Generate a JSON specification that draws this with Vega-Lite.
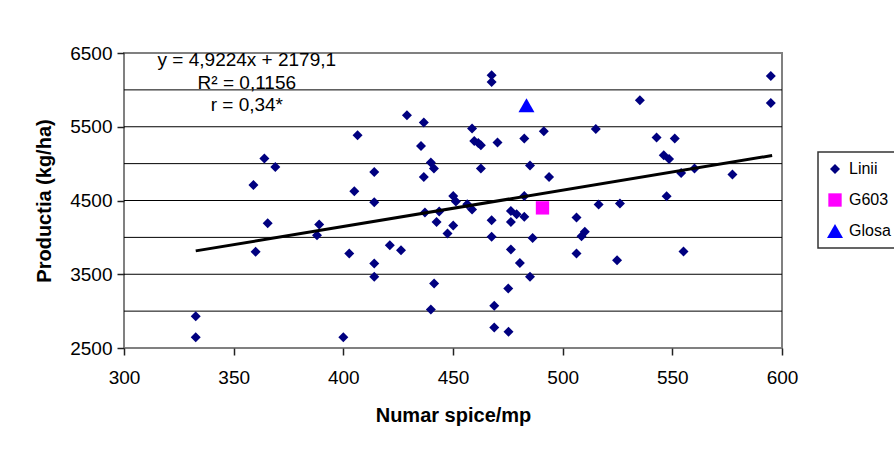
{
  "$schema": "https://vega.github.io/schema/vega-lite/v6.json",
  "width": 658,
  "height": 295,
  "autosize": {"type": "none"},
  "padding": {"left": 124, "top": 53, "right": 112, "bottom": 109},
  "background": "white",
  "config": {
    "font": "Liberation Sans",
    "view": {"stroke": "#808080", "strokeWidth": 2},
    "axis": {"labelFont": "Liberation Sans", "titleFont": "Liberation Sans", "labelColor": "black", "titleColor": "black", "domain": false, "grid": false, "labelOverlap": false, "labelFlush": false, "format": "d"},
    "axisX": {"ticks": true, "tickColor": "#222222", "tickWidth": 1.5, "tickSize": 7, "tickOpacity": 1},
    "axisY": {"ticks": true, "tickColor": "#222222", "tickWidth": 1.5, "tickSize": 7, "tickOpacity": 1},
    "legend": {"strokeColor": "#333333", "strokeWidth": 1.5}
  },
  "datasets": {
    "pts": [
      {"x": 364, "y": 5070, "s": "Linii"},
      {"x": 369, "y": 4955, "s": "Linii"},
      {"x": 359, "y": 4710, "s": "Linii"},
      {"x": 365.5, "y": 4190, "s": "Linii"},
      {"x": 360, "y": 3805, "s": "Linii"},
      {"x": 389, "y": 4175, "s": "Linii"},
      {"x": 388, "y": 4030, "s": "Linii"},
      {"x": 332.7, "y": 2930, "s": "Linii"},
      {"x": 332.7, "y": 2645, "s": "Linii"},
      {"x": 400, "y": 2645, "s": "Linii"},
      {"x": 467.6, "y": 6198, "s": "Linii"},
      {"x": 467.6, "y": 6107, "s": "Linii"},
      {"x": 429, "y": 5656, "s": "Linii"},
      {"x": 436.7, "y": 5557, "s": "Linii"},
      {"x": 406.5, "y": 5385, "s": "Linii"},
      {"x": 458.7, "y": 5476, "s": "Linii"},
      {"x": 435.4, "y": 5240, "s": "Linii"},
      {"x": 459.7, "y": 5308, "s": "Linii"},
      {"x": 461.5, "y": 5280, "s": "Linii"},
      {"x": 462.7, "y": 5249, "s": "Linii"},
      {"x": 470.3, "y": 5286, "s": "Linii"},
      {"x": 482.5, "y": 5340, "s": "Linii"},
      {"x": 491.4, "y": 5439, "s": "Linii"},
      {"x": 414.1, "y": 4888, "s": "Linii"},
      {"x": 439.9, "y": 5015, "s": "Linii"},
      {"x": 441.3, "y": 4934, "s": "Linii"},
      {"x": 436.7, "y": 4820, "s": "Linii"},
      {"x": 462.7, "y": 4934, "s": "Linii"},
      {"x": 485.1, "y": 4974, "s": "Linii"},
      {"x": 493.8, "y": 4820, "s": "Linii"},
      {"x": 405, "y": 4626, "s": "Linii"},
      {"x": 414.1, "y": 4477, "s": "Linii"},
      {"x": 450.1, "y": 4562, "s": "Linii"},
      {"x": 451.3, "y": 4486, "s": "Linii"},
      {"x": 456.5, "y": 4450, "s": "Linii"},
      {"x": 458.7, "y": 4378, "s": "Linii"},
      {"x": 482.5, "y": 4562, "s": "Linii"},
      {"x": 437.2, "y": 4337, "s": "Linii"},
      {"x": 443.7, "y": 4351, "s": "Linii"},
      {"x": 442.5, "y": 4210, "s": "Linii"},
      {"x": 450.1, "y": 4161, "s": "Linii"},
      {"x": 447.5, "y": 4053, "s": "Linii"},
      {"x": 467.6, "y": 4233, "s": "Linii"},
      {"x": 467.6, "y": 4007, "s": "Linii"},
      {"x": 476.4, "y": 4359, "s": "Linii"},
      {"x": 479, "y": 4314, "s": "Linii"},
      {"x": 482.5, "y": 4278, "s": "Linii"},
      {"x": 476.4, "y": 4210, "s": "Linii"},
      {"x": 486.3, "y": 3993, "s": "Linii"},
      {"x": 402.7, "y": 3782, "s": "Linii"},
      {"x": 421.2, "y": 3894, "s": "Linii"},
      {"x": 426.3, "y": 3827, "s": "Linii"},
      {"x": 414.1, "y": 3646, "s": "Linii"},
      {"x": 414.1, "y": 3465, "s": "Linii"},
      {"x": 476.4, "y": 3836, "s": "Linii"},
      {"x": 480.5, "y": 3654, "s": "Linii"},
      {"x": 485.1, "y": 3465, "s": "Linii"},
      {"x": 441.4, "y": 3375, "s": "Linii"},
      {"x": 439.9, "y": 3023, "s": "Linii"},
      {"x": 475.2, "y": 3308, "s": "Linii"},
      {"x": 468.8, "y": 3072, "s": "Linii"},
      {"x": 468.8, "y": 2779, "s": "Linii"},
      {"x": 475.3, "y": 2720, "s": "Linii"},
      {"x": 594.9, "y": 6188, "s": "Linii"},
      {"x": 594.9, "y": 5822, "s": "Linii"},
      {"x": 535.2, "y": 5859, "s": "Linii"},
      {"x": 515.1, "y": 5470, "s": "Linii"},
      {"x": 542.8, "y": 5354, "s": "Linii"},
      {"x": 551.1, "y": 5340, "s": "Linii"},
      {"x": 546.1, "y": 5114, "s": "Linii"},
      {"x": 548.5, "y": 5064, "s": "Linii"},
      {"x": 554, "y": 4874, "s": "Linii"},
      {"x": 560.1, "y": 4934, "s": "Linii"},
      {"x": 577.4, "y": 4852, "s": "Linii"},
      {"x": 547.4, "y": 4558, "s": "Linii"},
      {"x": 516.4, "y": 4446, "s": "Linii"},
      {"x": 526.1, "y": 4459, "s": "Linii"},
      {"x": 506.3, "y": 4270, "s": "Linii"},
      {"x": 510.1, "y": 4075, "s": "Linii"},
      {"x": 508.6, "y": 4016, "s": "Linii"},
      {"x": 506.3, "y": 3782, "s": "Linii"},
      {"x": 524.8, "y": 3691, "s": "Linii"},
      {"x": 555.1, "y": 3809, "s": "Linii"},
      {"x": 490.8, "y": 4400, "s": "G603"},
      {"x": 483.5, "y": 5791, "s": "Glosa"}
    ],
    "grid": [
      {"y": 3000}, {"y": 3500}, {"y": 4000}, {"y": 4500}, {"y": 5000}, {"y": 5500}, {"y": 6000}
    ],
    "trend": [
      {"x": 332.7, "y": 3816.8},
      {"x": 595.5, "y": 5110.4}
    ],
    "notes": [
      {"x": 356, "y": 6318, "t": "y = 4,9224x + 2179,1"},
      {"x": 356, "y": 6010, "t": "R² = 0,1156"},
      {"x": 356, "y": 5710, "t": "r = 0,34*"}
    ]
  },
  "layer": [
    {
      "data": {"name": "grid"},
      "mark": {"type": "rule", "color": "black", "strokeWidth": 1},
      "encoding": {
        "y": {"field": "y", "type": "quantitative", "scale": {"domain": [2500, 6500], "nice": false, "zero": false},
          "axis": {"values": [2500, 3000, 3500, 4000, 4500, 5000, 5500, 6000, 6500], "title": "Productia (kg/ha)", "labelFontSize": 19, "titleFontSize": 20, "titleFontWeight": "bold", "labelPadding": 5, "titlePadding": 15}}
      }
    },
    {
      "data": {"name": "pts"},
      "mark": {"type": "point", "filled": true, "opacity": 1, "strokeWidth": 0},
      "encoding": {
        "x": {"field": "x", "type": "quantitative", "scale": {"domain": [300, 600], "nice": false, "zero": false},
          "axis": {"values": [300, 350, 400, 450, 500, 550, 600], "title": "Numar spice/mp", "labelFontSize": 19, "titleFontSize": 20, "titleFontWeight": "bold", "labelPadding": 13, "titlePadding": 18}},
        "y": {"field": "y", "type": "quantitative"},
        "color": {"field": "s", "type": "nominal", "scale": {"domain": ["Linii", "G603", "Glosa"], "range": ["#000080", "#FF00FF", "#0000FF"]},
          "legend": {"title": null, "orient": "none", "legendX": 694, "legendY": 99, "padding": 9, "labelFontSize": 16, "labelFont": "Liberation Sans", "labelColor": "black", "symbolSize": 64, "rowPadding": 15, "labelOffset": 6, "strokeColor": "#333333", "fillColor": "white", "symbolStrokeWidth": 0}},
        "shape": {"field": "s", "type": "nominal", "scale": {"domain": ["Linii", "G603", "Glosa"], "range": ["diamond", "square", "triangle-up"]}},
        "size": {"field": "s", "type": "nominal", "scale": {"domain": ["Linii", "G603", "Glosa"], "range": [100, 256, 280]}, "legend": null}
      }
    },
    {
      "data": {"name": "trend"},
      "mark": {"type": "line", "color": "black", "strokeWidth": 3},
      "encoding": {
        "x": {"field": "x", "type": "quantitative"},
        "y": {"field": "y", "type": "quantitative"}
      }
    },
    {
      "data": {"name": "notes"},
      "mark": {"type": "text", "fontSize": 19, "font": "Liberation Sans", "align": "center", "baseline": "alphabetic", "color": "black"},
      "encoding": {
        "x": {"field": "x", "type": "quantitative"},
        "y": {"field": "y", "type": "quantitative"},
        "text": {"field": "t"}
      }
    }
  ]
}
